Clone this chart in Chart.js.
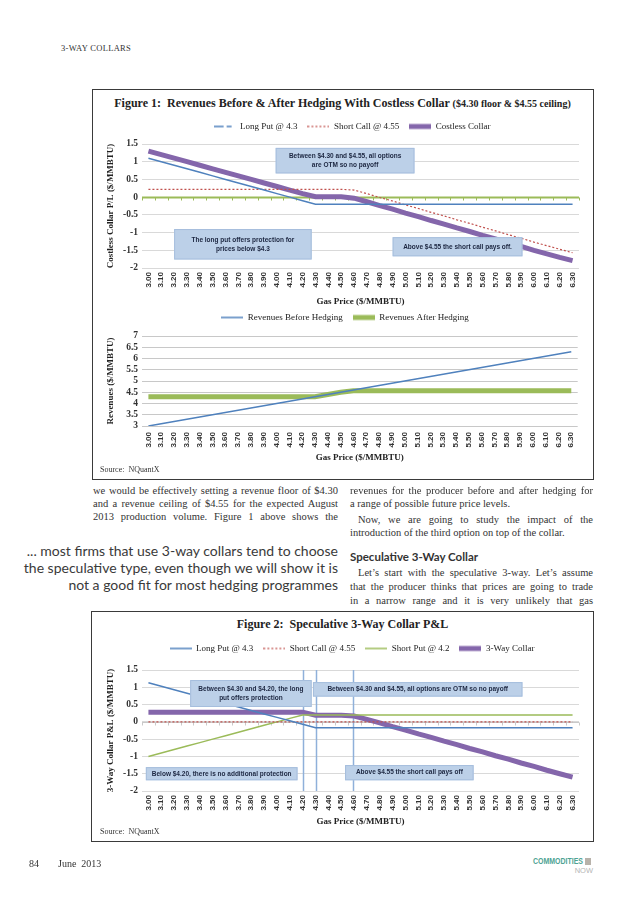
<!DOCTYPE html>
<html>
<head>
<meta charset="utf-8">
<script src="https://cdn.jsdelivr.net/npm/chart.js@4.4.0/dist/chart.umd.min.js"></script>
<style>
  body { margin: 0; width: 638px; height: 903px; position: relative; overflow: hidden; background: #fff; font-family: "Liberation Serif", serif; color: #333; }
  .frame { position: absolute; border: 1px solid #3a3a3a; box-sizing: border-box; }
  .ttl { position: absolute; left: 92px; width: 501px; text-align: center; font-weight: bold; font-size: 12px; color: #222; white-space: nowrap; }
  .ttl span { font-size: 10px; }
  .src { position: absolute; left: 100px; font-size: 8px; color: #333; }
  .ln { position: absolute; font-size: 10.5px; line-height: 13px; height: 13px; white-space: nowrap; }
  .pq { position: absolute; right: 300px; font-family: Lato, sans-serif; font-size: 14px; line-height: 17px; color: #3a3a3a; white-space: nowrap; text-align: right; }
  .wrap { position: absolute; left: 93px; width: 494px; }
</style>
</head>
<body>

<div class="ln" style="left:61px;top:42px;font-size:8.5px;letter-spacing:0.3px;">3-WAY COLLARS</div>

<!-- Figure 1 -->
<div class="frame" style="left:92px;top:89px;width:502px;height:391px;"></div>
<div class="ttl" style="top:96px;">Figure 1:&nbsp; Revenues Before &amp; After Hedging With Costless Collar <span>($4.30 floor &amp; $4.55 ceiling)</span></div>
<div class="wrap" style="top:112px;height:197px;"><canvas id="payoffChart"></canvas></div>
<div class="wrap" style="top:303px;height:162px;"><canvas id="revenueChart"></canvas></div>
<div class="src" style="top:465px;">Source:&nbsp; NQuantX</div>

<!-- body text -->
<div class="ln j" data-w="245" style="left:93px;top:484px;">we would be effectively setting a revenue floor of $4.30</div>
<div class="ln j" data-w="245" style="left:93px;top:497px;">and a revenue ceiling of $4.55 for the expected August</div>
<div class="ln j" data-w="245" style="left:93px;top:510px;">2013 production volume. Figure 1 above shows the</div>

<div class="pq" style="top:542px;">... most firms that use 3-way collars tend to choose</div>
<div class="pq" style="top:559px;">the speculative type, even though we will show it is</div>
<div class="pq" style="top:576px;">not a good fit for most hedging programmes</div>

<div class="ln j" data-w="243" style="left:350px;top:484px;">revenues for the producer before and after hedging for</div>
<div class="ln" style="left:350px;top:497px;">a range of possible future price levels.</div>
<div class="ln j" data-w="235" style="left:358px;top:513px;">Now, we are going to study the impact of the</div>
<div class="ln" style="left:350px;top:526px;">introduction of the third option on top of the collar.</div>
<div class="ln" style="left:350px;top:550px;font-family:Lato,sans-serif;font-weight:bold;font-size:11.5px;color:#333;">Speculative 3-Way Collar</div>
<div class="ln j" data-w="235" style="left:358px;top:566px;">Let’s start with the speculative 3-way. Let’s assume</div>
<div class="ln j" data-w="243" style="left:350px;top:580px;">that the producer thinks that prices are going to trade</div>
<div class="ln j" data-w="243" style="left:350px;top:594px;">in a narrow range and it is very unlikely that gas</div>

<!-- Figure 2 -->
<div class="frame" style="left:91px;top:611px;width:503px;height:231px;"></div>
<div class="ttl" style="top:617px;">Figure 2:&nbsp; Speculative 3-Way Collar P&amp;L</div>
<div class="wrap" style="top:634px;height:195px;"><canvas id="collarChart"></canvas></div>
<div class="src" style="top:827px;">Source:&nbsp; NQuantX</div>

<!-- footer -->
<div class="ln" style="left:29px;top:857px;font-size:10px;">84</div>
<div class="ln" style="left:58px;top:857px;font-size:10px;">June&nbsp; 2013</div>
<div class="ln" style="left:521px;top:855px;font-family:'Liberation Sans',sans-serif;font-weight:bold;font-size:8.5px;color:#4ea394;transform:scaleX(0.82);transform-origin:right center;width:62px;text-align:right;">COMMODITIES</div>
<div style="position:absolute;left:585px;top:858px;width:6px;height:7px;background:#b8b2aa;"></div>
<div class="ln" style="left:560px;top:864px;width:33px;text-align:right;font-family:'Liberation Sans',sans-serif;font-size:7.5px;color:#b5b5b5;">NOW</div>

<script>
// Shared categories (gas price, $/MMBTU)
const prices = ['3.00', '3.10', '3.20', '3.30', '3.40', '3.50', '3.60', '3.70', '3.80', '3.90',
  '4.00', '4.10', '4.20', '4.30', '4.40', '4.50', '4.60', '4.70', '4.80', '4.90',
  '5.00', '5.10', '5.20', '5.30', '5.40', '5.50', '5.60', '5.70', '5.80', '5.90',
  '6.00', '6.10', '6.20', '6.30'];

// Figure 1 - payoffs
const longPut = [1.1, 1.0, 0.9, 0.8, 0.7, 0.6, 0.5, 0.4, 0.3, 0.2, 0.1, 0, -0.1, -0.2,
  -0.2, -0.2, -0.2, -0.2, -0.2, -0.2, -0.2, -0.2, -0.2, -0.2, -0.2, -0.2, -0.2, -0.2,
  -0.2, -0.2, -0.2, -0.2, -0.2, -0.2];
const shortCall = [0.22, 0.22, 0.22, 0.22, 0.22, 0.22, 0.22, 0.22, 0.22, 0.22, 0.22, 0.22,
  0.22, 0.22, 0.22, 0.22, 0.2, 0.1, -0.01, -0.11, -0.22, -0.32, -0.43, -0.53, -0.64, -0.74,
  -0.85, -0.95, -1.06, -1.16, -1.27, -1.37, -1.47, -1.57];
const costlessCollar = [1.3, 1.2, 1.1, 1.0, 0.9, 0.8, 0.7, 0.6, 0.5, 0.4, 0.3, 0.2, 0.1,
  0.01, 0.01, 0.01, -0.03, -0.13, -0.24, -0.34, -0.45, -0.55, -0.66, -0.76, -0.87, -0.97,
  -1.08, -1.18, -1.29, -1.39, -1.5, -1.6, -1.7, -1.79];

// Figure 1 - revenues
const revBefore = [3.0, 3.1, 3.2, 3.3, 3.4, 3.5, 3.6, 3.7, 3.8, 3.9, 4.0, 4.1, 4.2, 4.3,
  4.4, 4.5, 4.6, 4.7, 4.8, 4.9, 5.0, 5.1, 5.2, 5.3, 5.4, 5.5, 5.6, 5.7, 5.8, 5.9, 6.0,
  6.1, 6.2, 6.3];
const revAfter = [4.3, 4.3, 4.3, 4.3, 4.3, 4.3, 4.3, 4.3, 4.3, 4.3, 4.3, 4.3, 4.3, 4.3,
  4.4, 4.5, 4.57, 4.57, 4.57, 4.57, 4.57, 4.57, 4.57, 4.57, 4.57, 4.57, 4.57, 4.57, 4.57,
  4.57, 4.57, 4.57, 4.57, 4.57];

// Figure 2 - speculative 3-way
const longPut2 = [1.13, 1.03, 0.93, 0.83, 0.73, 0.63, 0.53, 0.43, 0.33, 0.23, 0.13, 0.03,
  -0.07, -0.17, -0.17, -0.17, -0.17, -0.17, -0.17, -0.17, -0.17, -0.17, -0.17, -0.17,
  -0.17, -0.17, -0.17, -0.17, -0.17, -0.17, -0.17, -0.17, -0.17, -0.17];
const shortCall2 = [0, 0, 0, 0, 0, 0, 0, 0, 0, 0, 0, 0, 0, 0, 0, 0, 0, 0, 0, 0, 0, 0, 0,
  0, 0, 0, 0, 0, 0, 0, 0, 0, 0, 0];
const shortPut = [-1.0, -0.9, -0.8, -0.7, -0.6, -0.5, -0.4, -0.3, -0.2, -0.1, 0, 0.1, 0.2,
  0.2, 0.2, 0.2, 0.2, 0.2, 0.2, 0.2, 0.2, 0.2, 0.2, 0.2, 0.2, 0.2, 0.2, 0.2, 0.2, 0.2,
  0.2, 0.2, 0.2, 0.2];
const threeWay = [0.28, 0.28, 0.28, 0.28, 0.28, 0.28, 0.28, 0.28, 0.28, 0.28, 0.28, 0.28,
  0.28, 0.19, 0.19, 0.19, 0.17, 0.07, -0.03, -0.14, -0.24, -0.35, -0.45, -0.56, -0.66,
  -0.77, -0.87, -0.98, -1.08, -1.19, -1.29, -1.4, -1.5, -1.6];

// Callout boxes: category index range + value range, text lines
const notes1 = [
  { x0: 9.9, x1: 20.7, y0: 1.39, y1: 0.67, lines: ['Between $4.30 and $4.55, all options', 'are OTM so no payoff'] },
  { x0: 2.0, x1: 12.7, y0: -0.9, y1: -1.76, lines: ['The long put offers protection for', 'prices below $4.3'] },
  { x0: 19.0, x1: 29.1, y0: -1.13, y1: -1.67, lines: ['Above $4.55 the short call pays off.'] }
];
const notes2 = [
  { x0: 3.25, x1: 12.7, y0: 1.21, y1: 0.43, lines: ['Between $4.30 and $4.20, the long', 'put offers protection'] },
  { x0: 12.8, x1: 29.1, y0: 1.15, y1: 0.73, lines: ['Between $4.30 and $4.55, all options are OTM so no payoff'] },
  { x0: -0.2, x1: 11.6, y0: -1.31, y1: -1.69, lines: ['Below $4.20, there is no additional protection'] },
  { x0: 15.3, x1: 25.3, y0: -1.25, y1: -1.69, lines: ['Above $4.55 the short call pays off'] }
];
const strikeLines2 = [12, 13, 15.9];

const BLUE = '#4f81bd', RED = '#c0504d', PURPLE = '#8466ab', GREEN = '#9bbb59';
const serif = '"Liberation Serif", serif';

// justify the body lines by spreading the word gaps
document.querySelectorAll('.j').forEach(el => {
  const target = parseFloat(el.dataset.w);
  const natural = el.getBoundingClientRect().width;
  const gaps = (el.textContent.match(/ /g) || []).length;
  if (gaps) el.style.wordSpacing = ((target - natural) / gaps) + 'px';
});

// small picture of a line, used as the legend symbol
function sample(color, width, dash) {
  const c = document.createElement('canvas');
  c.width = 22; c.height = 8;
  const g = c.getContext('2d');
  g.strokeStyle = color;
  g.lineWidth = width;
  g.setLineDash(dash || []);
  g.beginPath(); g.moveTo(0, 4); g.lineTo(22, 4); g.stroke();
  return c;
}

// extra room under the legend, and a small sideways nudge
const legendGap = {
  id: 'legendGap',
  beforeInit(chart) {
    const lg = chart.legend;
    const opts = chart.options.plugins.legendGap;
    const fit = lg.fit;
    lg.fit = function () {
      fit.call(lg);
      this.height += opts.gap;
    };
    const draw = lg.draw;
    lg.draw = function () {
      chart.ctx.save();
      chart.ctx.translate(opts.dx || 0, 0);
      draw.call(lg);
      chart.ctx.restore();
    };
  }
};

// zero axis line, strike lines and callout boxes
const notesPlugin = {
  id: 'notes',
  beforeDatasetsDraw(chart, args, opts) {
    const { ctx, chartArea: a, scales: { x, y } } = chart;
    ctx.save();
    if (opts.zero) {
      const y0 = Math.round(y.getPixelForValue(0)) + 0.5;
      ctx.strokeStyle = opts.zero.color;
      ctx.lineWidth = opts.zero.width;
      ctx.beginPath(); ctx.moveTo(a.left, y0); ctx.lineTo(a.right, y0); ctx.stroke();
      ctx.lineWidth = 1;
      for (let i = 0; i <= chart.data.labels.length; i++) {
        const px = Math.round(x.getPixelForValue(i - 0.5)) + 0.5;
        ctx.beginPath(); ctx.moveTo(px, y0); ctx.lineTo(px, y0 + 3); ctx.stroke();
      }
    }
    (opts.vlines || []).forEach(v => {
      const px = Math.round(x.getPixelForValue(v)) + 0.5;
      ctx.strokeStyle = '#8fb0da';
      ctx.lineWidth = 1.5;
      ctx.beginPath(); ctx.moveTo(px, a.top); ctx.lineTo(px, a.bottom); ctx.stroke();
    });
    ctx.restore();
  },
  afterDatasetsDraw(chart, args, opts) {
    const { ctx, scales: { x, y } } = chart;
    ctx.save();
    (opts.boxes || []).forEach(b => {
      const l = x.getPixelForValue(b.x0), r = x.getPixelForValue(b.x1);
      const t = y.getPixelForValue(b.y0), btm = y.getPixelForValue(b.y1);
      ctx.fillStyle = '#bcd0e8';
      ctx.fillRect(l, t, r - l, btm - t);
      ctx.strokeStyle = '#a6bedd';
      ctx.lineWidth = 1;
      ctx.strokeRect(l + 0.5, t + 0.5, r - l - 1, btm - t - 1);
      ctx.fillStyle = '#1c2640';
      ctx.font = 'bold 6.5px "Liberation Sans", sans-serif';
      ctx.textAlign = 'center';
      ctx.textBaseline = 'middle';
      const mid = (t + btm) / 2, lh = 9;
      b.lines.forEach((s, i) => {
        ctx.fillText(s, (l + r) / 2, mid + (i - (b.lines.length - 1) / 2) * lh);
      });
    });
    ctx.restore();
  }
};

function lineSet(label, data, color, width, dash, legendDash) {
  return {
    label, data, borderColor: color, backgroundColor: color, borderWidth: width,
    borderDash: dash || [], pointRadius: 0, tension: 0, fill: false,
    pointStyle: sample(color, width, legendDash || dash)
  };
}

function makeOptions(cfg) {
  return {
    responsive: true,
    maintainAspectRatio: false,
    animation: false,
    layout: { padding: { left: 8, right: 8, top: 0, bottom: 0 } },
    plugins: {
      legendGap: { gap: cfg.gap, dx: cfg.dx },
      notes: cfg.notes || {},
      tooltip: { enabled: false },
      legend: {
        position: 'top',
        labels: {
          usePointStyle: true, pointStyleWidth: 22,
          padding: 10, color: '#222',
          font: { family: serif, size: 9 }
        }
      }
    },
    scales: {
      x: {
        offset: true,
        afterFit: s => { s.height = cfg.xHeight; },
        grid: { display: false, drawTicks: false },
        border: { display: false },
        ticks: {
          autoSkip: false, maxRotation: 90, minRotation: 90, padding: cfg.xPad,
          color: '#333', font: { family: '"Liberation Sans", sans-serif', size: 8, weight: 'bold' }
        },
        title: {
          display: true, text: 'Gas Price ($/MMBTU)', color: '#222',
          padding: { top: 0, bottom: 2 },
          font: { family: serif, size: 9, weight: 'bold' }
        }
      },
      y: {
        min: cfg.min, max: cfg.max,
        afterFit: s => { s.width = 41; },
        grid: {
          drawTicks: false,
          color: cfg.gridColor || '#d9d9d9'
        },
        border: { display: false },
        ticks: {
          stepSize: 0.5, autoSkip: false, padding: 4, color: '#333',
          callback: v => String(Number(v.toFixed(2))),
          font: { family: serif, size: 9.5, weight: 'bold' }
        },
        title: {
          display: true, text: cfg.yTitle, color: '#222',
          padding: { top: 4, bottom: 0 },
          font: { family: serif, size: 9, weight: 'bold' }
        }
      }
    }
  };
}

new Chart(document.getElementById('payoffChart'), {
  type: 'line',
  data: {
    labels: prices,
    datasets: [
      lineSet('Long Put @ 4.3', longPut, BLUE, 1.5, null, [10, 3, 5, 4]),
      lineSet('Short Call @ 4.55', shortCall, RED, 1.2, [2, 2]),
      lineSet('Costless Collar', costlessCollar, PURPLE, 5)
    ]
  },
  options: makeOptions({
    gap: 3, dx: 12, xHeight: 41, xPad: 4, min: -2, max: 1.5,
    yTitle: 'Costless Collar P/L ($/MMBTU)',
    notes: { zero: { color: GREEN, width: 2 }, boxes: notes1 }
  }),
  plugins: [legendGap, notesPlugin]
});

new Chart(document.getElementById('revenueChart'), {
  type: 'line',
  data: {
    labels: prices,
    datasets: [
      lineSet('Revenues Before Hedging', revBefore, BLUE, 1.5),
      lineSet('Revenues After Hedging', revAfter, GREEN, 5)
    ]
  },
  options: makeOptions({
    gap: 4, dx: 5, xHeight: 39, xPad: 6, min: 3, max: 7,
    yTitle: 'Revenues ($/MMBTU)', gridColor: '#c8c8c8'
  }),
  plugins: [legendGap, notesPlugin]
});

new Chart(document.getElementById('collarChart'), {
  type: 'line',
  data: {
    labels: prices,
    datasets: [
      lineSet('Long Put @ 4.3', longPut2, BLUE, 1.5),
      lineSet('Short Call @ 4.55', shortCall2, RED, 1.2, [2, 2]),
      lineSet('Short Put @ 4.2', shortPut, GREEN, 1.5),
      lineSet('3-Way Collar', threeWay, PURPLE, 5)
    ]
  },
  options: makeOptions({
    gap: 7, dx: 12, xHeight: 38, xPad: 4, min: -2, max: 1.5,
    yTitle: '3-Way Collar P&L ($/MMBTU)',
    notes: { zero: { color: '#c9c9c9', width: 1 }, vlines: strikeLines2, boxes: notes2 }
  }),
  plugins: [legendGap, notesPlugin]
});
</script>
</body>
</html>
